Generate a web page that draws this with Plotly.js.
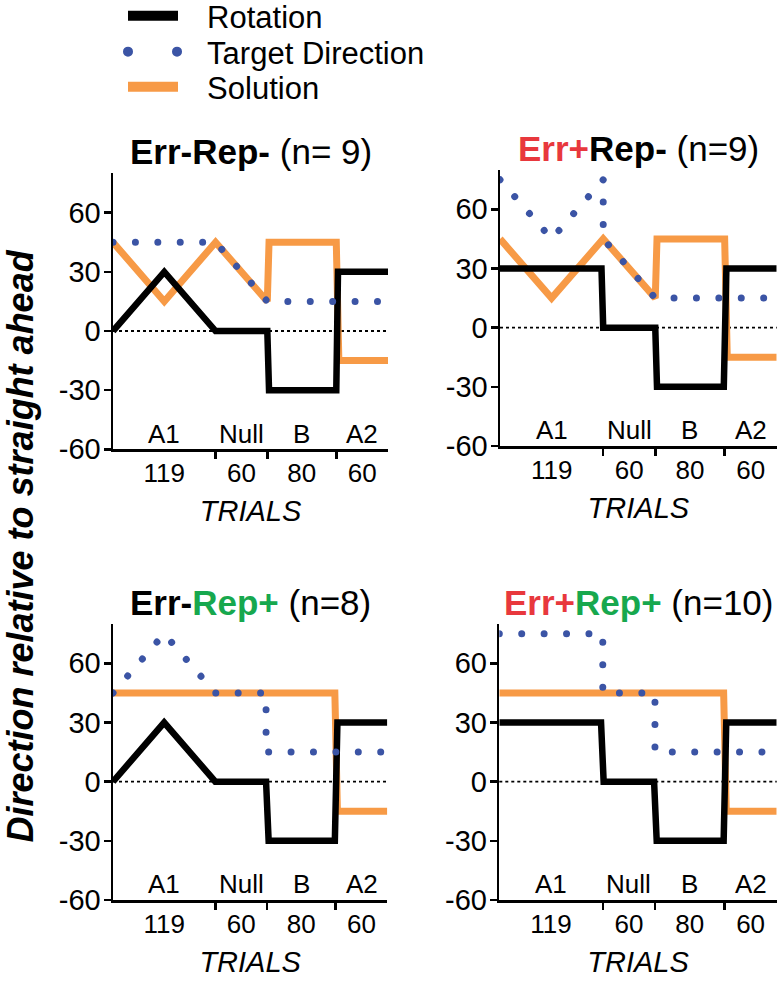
<!DOCTYPE html>
<html><head><meta charset="utf-8">
<script src="https://cdn.plot.ly/plotly-3.0.1.min.js"></script>
<style>html,body{margin:0;padding:0;background:#fff}</style>
</head><body><div id="chart" style="width:784px;height:986px"></div>
<script>
// ---- data ----
const phases = ["A1", "Null", "B", "A2"];
const phaseTrials = ["119", "60", "80", "60"];
const phaseMid = [59.5, 149, 219, 289];
const phaseBounds = [119, 179, 259];
const yTicks = [-60, -30, 0, 30, 60];
const yTickText = ["-60", "-30", "0", "30", "60"];
const seriesNames = ["Rotation", "Target Direction", "Solution"];

// Err-Rep- (n= 9)
const p1RotX = [0, 59.5, 119, 179, 181, 259, 261, 319];
const p1RotY = [0, 30, 0, 0, -30, -30, 30, 30];
const p1SolX = [0, 59.5, 119, 179, 181, 259, 262, 319];
const p1SolY = [45, 15, 45, 15, 45, 45, -15, -15];
const p1TarX = [0, 119, 179, 319];
const p1TarY = [45, 45, 15, 15];
// Err+Rep- (n=9)
const p2RotX = [0, 117, 119, 179, 181, 258, 261, 319];
const p2RotY = [30, 30, 0, 0, -30, -30, 30, 30];
const p2SolX = [0, 59.5, 119, 179, 181, 259, 262, 319];
const p2SolY = [45, 15, 45, 15, 45, 45, -15, -15];
const p2TarX = [0, 59.5, 119, 119, 179, 319];
const p2TarY = [75, 45, 75, 45, 15, 15];
// Err-Rep+ (n=8)
const p3RotX = [0, 59.5, 119, 178, 181, 258, 261, 319];
const p3RotY = [0, 30, 0, 0, -30, -30, 30, 30];
const p3SolX = [0, 258, 261, 319];
const p3SolY = [45, 45, -15, -15];
const p3TarX = [0, 59.5, 119, 178, 178, 319];
const p3TarY = [45, 75, 45, 45, 15, 15];
// Err+Rep+ (n=10)
const p4RotX = [0, 117, 120, 178, 181, 258, 261, 319];
const p4RotY = [30, 30, 0, 0, -30, -30, 30, 30];
const p4SolX = [0, 258, 261, 319];
const p4SolY = [45, 45, -15, -15];
const p4TarX = [0, 119, 119, 179, 179, 319];
const p4TarY = [75, 75, 45, 45, 15, 15];

const RED = "#E8383D", GREEN = "#17A84E";
const panelTitles = [
  "<b>Err-Rep-</b> (n= 9)",
  "<b><span style='color:" + RED + "'>Err+</span>Rep-</b> (n=9)",
  "<b>Err-<span style='color:" + GREEN + "'>Rep+</span></b> (n=8)",
  "<b><span style='color:" + RED + "'>Err+</span><span style='color:" + GREEN + "'>Rep+</span></b> (n=10)"
];
const yTitle = "<b><i>Direction relative to straight ahead</i></b>";
const xTitle = "<i>TRIALS</i>";

// ---- styling ----
const FONT = "Liberation Sans, Arial, Helvetica, sans-serif";
const BLACK = "#000000", BLUE = "#3B54A5", ORANGE = "#F79A46";
const W = 784, H = 986;
const px = v => v / W, py = v => 1 - v / H;
const domains = [
  {x: [px(113), px(388)], y: [py(449.3), py(173.3)]},
  {x: [px(500), px(776.7)], y: [py(446), py(169.9)]},
  {x: [px(113), px(387.3)], y: [py(900), py(623.9)]},
  {x: [px(499.3), px(776.7)], y: [py(900), py(623.9)]}
];
const panels = [
  {rx: p1RotX, ry: p1RotY, sx: p1SolX, sy: p1SolY, tx: p1TarX, ty: p1TarY},
  {rx: p2RotX, ry: p2RotY, sx: p2SolX, sy: p2SolY, tx: p2TarX, ty: p2TarY},
  {rx: p3RotX, ry: p3RotY, sx: p3SolX, sy: p3SolY, tx: p3TarX, ty: p3TarY},
  {rx: p4RotX, ry: p4RotY, sx: p4SolX, sy: p4SolY, tx: p4TarX, ty: p4TarY}
];

const DOTDASH = "0.01px,22.4px";
const traces = [];
const layout = {
  width: W, height: H,
  margin: {l: 0, r: 0, t: 0, b: 0, autoexpand: false},
  paper_bgcolor: "#fff", plot_bgcolor: "rgba(0,0,0,0)",
  font: {family: FONT, color: BLACK},
  showlegend: true,
  annotations: [], shapes: []
};
const legendRowsY = [16, 52, 87];
["legend", "legend2", "legend3"].forEach((lk, k) => {
  layout[lk] = {x: px(123), y: py(legendRowsY[k]), xanchor: "left", yanchor: "middle",
    font: {size: 31, family: FONT, color: BLACK}, itemwidth: 50,
    bgcolor: "rgba(0,0,0,0)", borderwidth: 0};
});

panels.forEach((p, i) => {
  const n = i + 1;
  const xa = n === 1 ? "x" : "x" + n, ya = n === 1 ? "y" : "y" + n;
  const xk = n === 1 ? "xaxis" : "xaxis" + n, yk = n === 1 ? "yaxis" : "yaxis" + n;
  traces.push({x: p.sx, y: p.sy, xaxis: xa, yaxis: ya, mode: "lines", showlegend: false,
    line: {color: ORANGE, width: 7}, hoverinfo: "skip"});
  traces.push({x: p.rx, y: p.ry, xaxis: xa, yaxis: ya, mode: "lines", showlegend: false,
    line: {color: BLACK, width: 6.5}, hoverinfo: "skip"});
  traces.push({x: p.tx, y: p.ty, xaxis: xa, yaxis: ya, mode: "lines", showlegend: false,
    line: {color: BLUE, width: 7, dash: DOTDASH}, hoverinfo: "skip"});

  layout[xk] = {
    domain: domains[i].x, anchor: ya, range: [0, 319], fixedrange: true,
    showline: true, linecolor: BLACK, linewidth: 2.5, mirror: false,
    showgrid: false, zeroline: false, automargin: false,
    tickmode: "array", tickvals: phaseMid, ticktext: phaseTrials,
    ticks: "outside", ticklen: 7, tickwidth: 2.5, tickcolor: "rgba(0,0,0,0)",
    ticklabelstandoff: -8,
    tickfont: {size: 26, family: FONT, color: BLACK},
    minor: {tickmode: "array", tickvals: phaseBounds, ticks: "outside", ticklen: 7,
            tickwidth: 2.5, tickcolor: BLACK, showgrid: false},
    title: {text: xTitle, font: {size: 29, family: FONT, color: BLACK}, standoff: 14}
  };
  layout[yk] = {
    domain: domains[i].y, anchor: xa, range: [-60, 80], fixedrange: true,
    showline: true, linecolor: BLACK, linewidth: 2.5,
    showgrid: false, zeroline: false, automargin: false,
    tickmode: "array", tickvals: yTicks, ticktext: yTickText,
    ticks: "outside", ticklen: 7, tickwidth: 2.5, ticklabelstandoff: -3,
    tickcolor: BLACK, tickfont: {size: 29, family: FONT, color: BLACK}
  };
  // dotted zero reference line
  layout.shapes.push({type: "line", xref: xa + " domain", yref: ya, x0: 0, x1: 1, y0: 0, y1: 0,
    line: {color: BLACK, width: 1.8, dash: "dot"}, layer: "below"});
  // phase labels
  phases.forEach((ph, k) => {
    layout.annotations.push({xref: xa, yref: ya, x: phaseMid[k], y: -52, text: ph,
      showarrow: false, font: {size: 26, family: FONT, color: BLACK}});
  });
  // panel title
  layout.annotations.push({xref: "paper", yref: "paper",
    x: (domains[i].x[0] + domains[i].x[1]) / 2, y: domains[i].y[1],
    xanchor: "center", yanchor: "bottom", text: panelTitles[i], showarrow: false,
    font: {size: 35, family: FONT, color: BLACK}});
});

// legend entries (one legend box per row)
const legendColors = [BLACK, BLUE, ORANGE];
const legendDash = ["solid", "0.01px,49px", "solid"];
const legendKeys = ["legend", "legend2", "legend3"];
seriesNames.forEach((nm, k) => {
  traces.push({x: [null], y: [null], xaxis: "x", yaxis: "y", mode: "lines",
    name: "\u2002\u00a0" + nm, legend: legendKeys[k],
    line: {color: legendColors[k], width: 15, dash: legendDash[k]}, hoverinfo: "skip"});
});

layout.annotations.push({xref: "paper", yref: "paper", x: px(20), y: py(546.5),
  text: yTitle, textangle: -90, showarrow: false, xanchor: "center", yanchor: "middle",
  font: {size: 36, family: FONT, color: BLACK}});

Plotly.newPlot("chart", traces, layout, {staticPlot: true}).then(() => {
  document.querySelectorAll("path").forEach(el => {
    const s = el.style.stroke || "";
    if (s.replace(/\s/g, "") === "rgb(59,84,165)") el.style.strokeLinecap = "round";
  });
});
</script></body></html>
